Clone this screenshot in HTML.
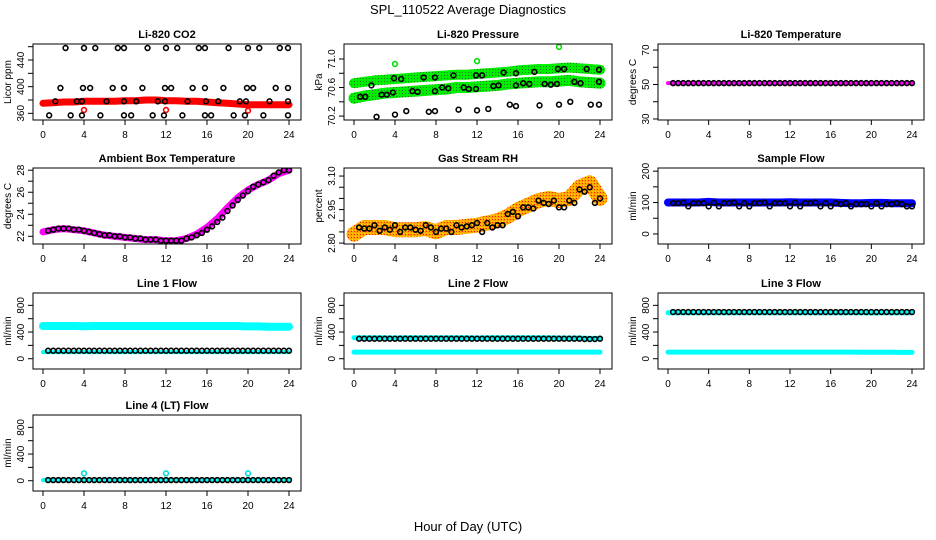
<!DOCTYPE html>
<html><head><meta charset="utf-8"><style>
html,body{margin:0;padding:0;background:#fff;}
svg{display:block;font-family:"Liberation Sans",sans-serif;}
</style></head><body>
<svg id="chart" width="936" height="540" viewBox="0 0 936 540" xmlns="http://www.w3.org/2000/svg">
<defs>
<pattern id="pGreen" width="3" height="3" patternUnits="userSpaceOnUse"><rect width="3" height="3" fill="#00ee00"/><rect width="1" height="1" fill="#227722"/></pattern>
<pattern id="pOrange" width="3" height="3" patternUnits="userSpaceOnUse"><rect width="3" height="3" fill="#ffa500"/><rect width="1" height="1" fill="#ff2000"/><rect x="1" y="2" width="1" height="1" fill="#ffe000"/></pattern>
</defs>
<text x="468" y="14" text-anchor="middle" font-size="13">SPL_110522  Average Diagnostics</text>
<text x="468" y="531" text-anchor="middle" font-size="13">Hour of Day (UTC)</text>
</svg>
<script>
// ---- data ----
const hrs25 = [0,1,2,3,4,5,6,7,8,9,10,11,12,13,14,15,16,17,18,19,20,21,22,23,24];
const hrs48 = [0.5,1,1.5,2,2.5,3,3.5,4,4.5,5,5.5,6,6.5,7,7.5,8,8.5,9,9.5,10,10.5,11,11.5,12,12.5,13,13.5,14,14.5,15,15.5,16,16.5,17,17.5,18,18.5,19,19.5,20,20.5,21,21.5,22,22.5,23,23.5,24];

const co2Band = [375,376,377,377,378,378,378,378,379,379,380,380,379,379,378,378,377,376,375,374,373,373,373,373,373];
const co2PtsX = [2.2,4,5.1,7.3,7.9,10.2,12,13.1,15.2,15.8,18.1,20,21.1,23.1,23.9, 1.7,3.9,4.6,6.8,7.9,9.7,11.9,12.5,14.6,15.8,17.6,19.9,20.5,22.7,23.9, 1.2,3.3,3.8,6.2,7.9,9.1,11.2,11.9,14.1,15.9,17.1,19.2,19.8,22.1,23.9, 0.6,2.7,3.8,5.6,7.9,8.6,10.7,11.8,13.6,15.8,16.4,18.6,19.7,21.5,23.9];
const co2PtsY = [458,458,458,458,458,458,458,458,458,458,458,458,458,458,458, 398,398,398,398,398,398,398,398,398,398,398,398,398,398,398, 378,378,378,378,378,378,378,378,378,378,378,378,378,378,378, 357,357,357,357,357,357,357,357,357,357,357,357,357,357,357];
const co2OutX = [4,12,20];
const co2OutY = [365,365,364];

const presUpper = [70.66,70.68,70.70,70.71,70.72,70.73,70.74,70.75,70.76,70.77,70.78,70.78,70.79,70.80,70.81,70.82,70.84,70.85,70.86,70.86,70.87,70.88,70.87,70.86,70.85];
const presLower = [70.45,70.48,70.50,70.52,70.53,70.54,70.55,70.56,70.57,70.58,70.60,70.60,70.61,70.62,70.63,70.65,70.66,70.67,70.68,70.68,70.69,70.70,70.68,70.67,70.66];
const presPtsX = [2.2,4,5.1,7.3,7.9,10.2,12,13.1,15.2,15.8,18.1,20,21.1,23.1,23.9, 0.6,1.1,2.7,3.2,3.8,5.7,6.2,7.9,8.6,9.2,10.7,11.2,11.9,13.6,14.1,15.8,16.5,17.1,18.6,19.2,19.8,21.5,22.1,23.9, 1.7,3.9,4.6,6.8,7.9,9.7,11.9,12.5,14.6,15.8,17.6,19.9,20.5,22.7,23.9];
const presPtsY = [70.19,70.22,70.27,70.26,70.27,70.29,70.28,70.30,70.36,70.34,70.35,70.36,70.40,70.36,70.36, 70.47,70.47,70.50,70.50,70.53,70.55,70.54,70.55,70.60,70.59,70.60,70.58,70.58,70.62,70.63,70.63,70.66,70.65,70.65,70.64,70.65,70.68,70.66,70.68, 70.63,70.73,70.72,70.74,70.74,70.77,70.77,70.77,70.81,70.80,70.82,70.86,70.86,70.86,70.85];
const presOutX = [4,12,20];
const presOutY = [70.93,70.97,71.17];

const tempBand = [50.8,50.8,50.8,50.8,50.8,50.8,50.8,50.8,50.8,50.8,50.8,50.8,50.8,50.8,50.8,50.8,50.8,50.8,50.8,50.8,50.8,50.8,50.8,50.8,50.8];
const tempPts = [50.8,50.8,50.8,50.8,50.8,50.8,50.8,50.8,50.8,50.8,50.8,50.8,50.8,50.8,50.8,50.8,50.8,50.8,50.8,50.8,50.8,50.8,50.8,50.8,50.8,50.8,50.8,50.8,50.8,50.8,50.8,50.8,50.8,50.8,50.8,50.8,50.8,50.8,50.8,50.8,50.8,50.8,50.8,50.8,50.8,50.8,50.8,50.8];

const ambBand = [22.4,22.6,22.7,22.6,22.5,22.3,22.1,22.0,21.9,21.8,21.7,21.7,21.6,21.6,21.8,22.2,22.8,23.6,24.6,25.5,26.2,26.7,27.1,27.7,28.0];
const ambPts = [22.5,22.6,22.7,22.7,22.7,22.6,22.6,22.5,22.4,22.3,22.2,22.1,22.1,22.0,22.0,21.9,21.9,21.8,21.8,21.7,21.7,21.7,21.6,21.6,21.6,21.6,21.6,21.8,21.9,22.1,22.3,22.6,22.9,23.3,23.7,24.3,24.8,25.3,25.7,26.1,26.5,26.7,26.9,27.1,27.5,27.8,28.0,28.0];

const rhBand = [2.84,2.87,2.87,2.87,2.86,2.86,2.86,2.865,2.85,2.87,2.87,2.875,2.88,2.89,2.90,2.92,2.95,2.97,2.99,3.00,2.99,3.00,3.05,3.07,3.00];
const rhPts = [2.87,2.865,2.865,2.88,2.855,2.87,2.86,2.88,2.85,2.87,2.87,2.86,2.855,2.88,2.87,2.85,2.865,2.865,2.85,2.88,2.87,2.875,2.88,2.89,2.85,2.89,2.87,2.88,2.88,2.93,2.94,2.92,2.96,2.96,2.955,2.99,2.98,2.975,2.99,2.96,2.96,2.99,2.98,3.04,3.03,3.05,2.98,3.00];

const flowBand = [100,100,100,100,102,100,100,100,100,100,100,100,101,100,100,100,100,99,98,98,99,99,98,98,98];
const flowPts = [98,98,100,88,98,98,98,88,100,88,98,98,100,88,98,88,98,98,100,88,98,98,98,88,100,88,98,98,100,88,98,88,98,95,98,88,95,95,95,88,98,88,95,95,98,95,88,88];

const l1Upper = [490,490,490,490,488,490,490,490,490,490,490,490,490,490,490,490,490,490,490,490,485,485,480,480,480];
const l1Lower = [100,100,100,100,100,100,100,100,100,100,100,100,100,100,100,100,100,100,100,100,100,100,100,100,100];
const l1Pts = [120,120,120,120,120,120,120,120,120,120,120,120,120,120,120,120,120,120,120,120,120,120,120,120,120,120,120,120,120,120,120,120,120,120,120,120,120,120,120,120,120,120,120,120,120,120,120,120];

const l2Upper = [315,315,315,315,310,315,315,315,315,315,315,315,310,315,315,315,315,315,315,315,310,310,310,305,305];
const l2Lower = [100,100,100,100,100,100,100,100,100,100,100,100,100,100,100,100,100,100,100,100,100,100,100,100,100];
const l2Pts = [300,300,300,300,300,300,300,300,300,300,300,300,300,300,300,300,300,300,300,300,300,300,300,300,300,300,300,300,300,300,300,300,300,300,300,300,300,300,300,300,300,300,300,300,295,295,295,300];

const l3Upper = [690,690,690,690,690,690,690,690,690,690,690,690,690,690,690,690,690,690,690,690,685,690,690,690,690];
const l3Lower = [100,100,100,100,100,100,100,100,100,100,100,100,100,100,100,100,100,100,100,98,98,97,96,95,95];
const l3Pts = [700,700,700,700,700,700,700,700,700,700,700,700,700,700,700,700,700,700,700,700,700,700,700,700,700,700,700,700,700,700,700,700,700,700,700,700,700,700,700,700,700,700,700,700,700,700,700,700];

const l4Band = [10,10,10,10,10,10,10,10,10,10,10,10,10,10,10,10,10,10,10,10,10,10,10,10,10];
const l4Pts = [10,10,10,10,10,10,10,10,10,10,10,10,10,10,10,10,10,10,10,10,10,10,10,10,10,10,10,10,10,10,10,10,10,10,10,10,10,10,10,10,10,10,10,10,10,10,10,10];
const l4OutX = [4,12,20];
const l4OutY = [110,110,110];

const xTicks = [0,4,8,12,16,20,24];

// ---- layout ----
const NS = "http://www.w3.org/2000/svg";
const svg = document.getElementById('chart');
const colX = [33,344,658];
const colW = [268,268,266];
const rowY = [44,168,293,415];
const PH = 76;

function mk(tag, attrs, parent){
  const e = document.createElementNS(NS, tag);
  for (const k in attrs) e.setAttribute(k, attrs[k]);
  parent.appendChild(e);
  return e;
}

function makePanel(name, title, ylab, col, row, ylo, yhi, yTicks, yLabels){
  const x0 = colX[col], w = colW[col], y0 = rowY[row];
  const g = mk('g', {}, svg);
  
  
  const p = {
    g: g,
    sx: h => x0 + 10 + h * (w - 22) / 24,
    sy: v => y0 + PH - (v - ylo) / (yhi - ylo) * PH
  };
  const clip = mk('clipPath', {id: 'clip-' + name}, g);
  mk('rect', {x: x0, y: y0, width: w, height: PH}, clip);
  p.data = mk('g', {'clip-path': 'url(#clip-' + name + ')'}, g);
  
  
  const t = mk('text', {x: x0 + w / 2, y: y0 - 6, 'text-anchor': 'middle', 'font-size': 11, 'font-weight': 'bold'}, g);
  t.textContent = title;
  
  
  const yl = mk('text', {transform: 'translate(' + (x0 - 22) + ',' + (y0 + PH / 2) + ') rotate(-90)', 'text-anchor': 'middle', 'font-size': 10}, g);
  yl.textContent = ylab;
  
  
  const xa = mk('g', {}, g);
  
  
  xTicks.forEach(h => {
    const px = p.sx(h);
    mk('line', {x1: px, x2: px, y1: y0 + PH, y2: y0 + PH + 5, stroke: '#000'}, xa);
    const tl = mk('text', {x: px, y: y0 + PH + 18, 'text-anchor': 'middle', 'font-size': 10}, xa);
    tl.textContent = h;
    
    
  });
  const ya = mk('g', {}, g);
  
  
  yTicks.forEach(v => {
    const py = p.sy(v);
    mk('line', {x1: x0 - 5, x2: x0, y1: py, y2: py, stroke: '#000'}, ya);
  });
  yLabels.forEach(v => {
    const py = p.sy(v);
    const tl = mk('text', {transform: 'translate(' + (x0 - 9) + ',' + py + ') rotate(-90)', 'text-anchor': 'middle', 'font-size': 10}, ya);
    tl.textContent = v;
    
    
  });
  p.frame = () => {
    const f = mk('rect', {x: x0, y: y0, width: w, height: PH, fill: 'none', stroke: '#000', 'stroke-width': 1}, g);
    
    
  };
  return p;
}

function band(p, xs, ys, color, width, nm){
  const d = xs.map((h, i) => (i ? 'L' : 'M') + p.sx(h).toFixed(1) + ' ' + p.sy(ys[i]).toFixed(1)).join(' ');
  const e = mk('path', {d: d, fill: 'none', stroke: color, 'stroke-width': width, 'stroke-linejoin': 'round', 'stroke-linecap': 'round'}, p.data);
  
  
}
function pts(p, xs, ys, color, nm){
  const g = mk('g', {}, p.data);
  
  
  xs.forEach((h, i) => {
    const c = mk('circle', {cx: p.sx(h), cy: p.sy(ys[i]), r: 2.4, fill: 'none', stroke: color, 'stroke-width': 1.6}, g);
    
    
  });
}

let p;
p = makePanel('co2', 'Li-820 CO2', 'Licor ppm', 0, 0, 350, 464, [360,380,400,420,440,460], [360,400,440]);
band(p, hrs25, co2Band, '#ff0000', 7, 'co2-band');
pts(p, co2OutX, co2OutY, '#ff0000', 'co2-outliers');
pts(p, co2PtsX, co2PtsY, '#000', 'co2-points');
p.frame();

p = makePanel('pressure', 'Li-820 Pressure', 'kPa', 1, 0, 70.145, 71.21, [70.2,70.4,70.6,70.8,71.0], ['70.2','70.6','71.0']);
band(p, hrs25, presUpper, 'url(#pGreen)', 10, 'pressure-upper-band');
band(p, hrs25, presLower, 'url(#pGreen)', 11, 'pressure-lower-band');
pts(p, presOutX, presOutY, '#00dd00', 'pressure-outliers');
pts(p, presPtsX, presPtsY, '#000', 'pressure-points');
p.frame();

p = makePanel('temperature', 'Li-820 Temperature', 'degrees C', 2, 0, 29.4, 73.5, [30,40,50,60,70], [30,50,70]);
band(p, hrs25, tempBand, '#ff00ff', 4, 'temperature-band');
pts(p, hrs48, tempPts, '#000', 'temperature-points');
p.frame();

p = makePanel('ambient', 'Ambient Box Temperature', 'degrees C', 0, 1, 21.3, 28.2, [22,23,24,25,26,27,28], [22,24,26,28]);
band(p, hrs25, ambBand, '#ff00ff', 7, 'ambient-band');
pts(p, hrs48, ambPts, '#000', 'ambient-points');
p.frame();

p = makePanel('rh', 'Gas Stream RH', 'percent', 1, 1, 2.796, 3.136, [2.80,2.85,2.90,2.95,3.00,3.05,3.10], ['2.80','2.95','3.10']);
band(p, hrs25, rhBand, 'url(#pOrange)', 15, 'rh-band');
pts(p, hrs48, rhPts, '#000', 'rh-points');
p.frame();

p = makePanel('sample-flow', 'Sample Flow', 'ml/min', 2, 1, -32, 210, [0,50,100,150,200], [0,100,200]);
band(p, hrs25, flowBand, '#0000ff', 8, 'sample-flow-band');
pts(p, hrs48, flowPts, '#000', 'sample-flow-points');
p.frame();

const fT = [0,200,400,600,800], fL = [0,400,800];
p = makePanel('line1', 'Line 1 Flow', 'ml/min', 0, 2, -154, 985, fT, fL);
band(p, hrs25, l1Upper, '#00ffff', 8, 'line1-upper-band');
band(p, hrs25, l1Lower, '#00ffff', 4, 'line1-lower-band');
pts(p, hrs48, l1Pts, '#000', 'line1-points');
p.frame();

p = makePanel('line2', 'Line 2 Flow', 'ml/min', 1, 2, -154, 985, fT, fL);
band(p, hrs25, l2Upper, '#00ffff', 5, 'line2-upper-band');
band(p, hrs25, l2Lower, '#00ffff', 5, 'line2-lower-band');
pts(p, hrs48, l2Pts, '#000', 'line2-points');
p.frame();

p = makePanel('line3', 'Line 3 Flow', 'ml/min', 2, 2, -154, 985, fT, fL);
band(p, hrs25, l3Upper, '#00ffff', 5, 'line3-upper-band');
band(p, hrs25, l3Lower, '#00ffff', 5, 'line3-lower-band');
pts(p, hrs48, l3Pts, '#000', 'line3-points');
p.frame();

p = makePanel('line4', 'Line 4 (LT) Flow', 'ml/min', 0, 3, -154, 985, fT, fL);
band(p, hrs25, l4Band, '#00ffff', 4, 'line4-band');
pts(p, l4OutX, l4OutY, '#00dddd', 'line4-outliers');
pts(p, hrs48, l4Pts, '#000', 'line4-points');
p.frame();
</script>
</body></html>
